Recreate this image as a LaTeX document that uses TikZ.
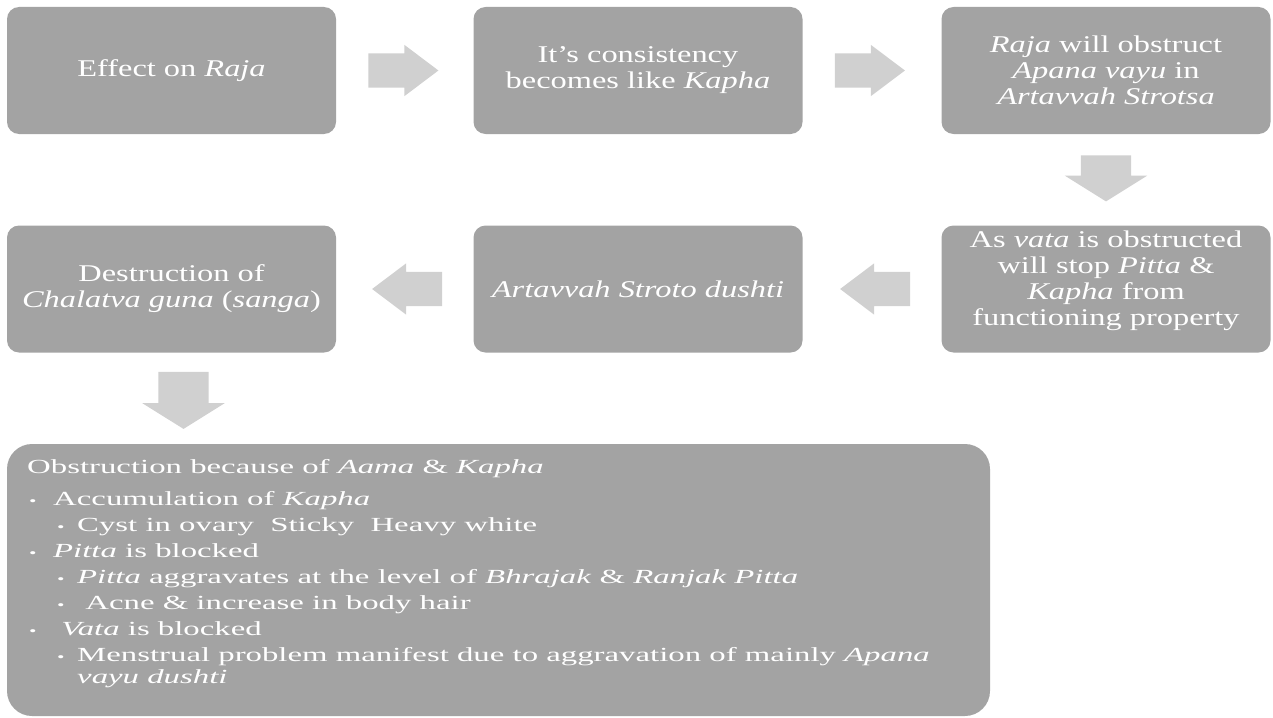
\documentclass[tikz,border=0pt]{standalone}
\usepackage{fontspec}
\setmainfont{Liberation Serif}
\newfontfamily\boxfont[FakeStretch=1.35]{Liberation Serif}
\newfontfamily\listfont[FakeStretch=1.64]{Liberation Serif}
\usepackage{xcolor}
\usepackage{tikz}
\usetikzlibrary{shapes.arrows}
\definecolor{boxgrey}{HTML}{A3A3A3}
\definecolor{arrowgrey}{HTML}{D0D0D0}
\newcommand{\bulone}{\makebox[26pt][l]{\hspace{2pt}{\fontsize{13}{13}\selectfont\textbullet}}}
\newcommand{\bultwo}{\hspace*{30pt}\makebox[20pt][l]{{\fontsize{13}{13}\selectfont\textbullet}}}

\begin{document}
\begin{tikzpicture}[x=1pt,y=-1pt,
  box/.style={rectangle,rounded corners=12pt,fill=boxgrey,text=white,align=center,
    minimum width=329pt,minimum height=127pt,inner sep=4pt,
    font=\boxfont\fontsize{24}{26}\selectfont},
  harrow/.style={single arrow,fill=arrowgrey,draw=none,inner xsep=0pt,inner ysep=17pt,
    single arrow head extend=8.5pt,single arrow tip angle=74,minimum height=70pt,anchor=tail},
  darrow/.style={single arrow,fill=arrowgrey,draw=none,inner xsep=0pt,inner ysep=25pt,
    single arrow head extend=16pt,single arrow tip angle=116,rotate=-90,anchor=tail}]
\useasboundingbox (0,0) rectangle (1273,717);
% first row
\node[box] (effect) at (171.5,70.5) {Effect on \textit{Raja}};
\node[box] (consist) at (638,70.5) {It’s consistency\\becomes like \textit{Kapha}};
\node[box] (obstr) at (1106,70.5) {\textit{Raja} will obstruct\\\textit{Apana vayu} in\\\textit{Artavvah Strotsa}};
% second row
\node[box] (vatabox) at (1106,289) {As \textit{vata} is obstructed\\will stop \textit{Pitta} \&\\\textit{Kapha} from\\functioning property\\[-4pt]\mbox{}};
\node[box] (dushti) at (638,289) {\textit{Artavvah Stroto dushti}};
\node[box] (destr) at (171.5,289) {Destruction of\\\textit{Chalatva guna} (\textit{sanga})};
% bottom box
\node[rectangle,rounded corners=25pt,fill=boxgrey,minimum width=983pt,minimum height=272pt] (list) at (498.5,580) {};
\node[anchor=north west,inner sep=0pt,text=white,align=left,
  font=\listfont\fontsize{20}{26}\selectfont] (listtext) at (27,459) {%
Obstruction because of \textit{Aama} \& \textit{Kapha}\\[6pt]
\bulone Accumulation of \textit{Kapha}\\
\bultwo Cyst in ovary\ \ Sticky\ \ Heavy white\\
\bulone\textit{Pitta} is blocked\\
\bultwo\textit{Pitta} aggravates at the level of \textit{Bhrajak} \& \textit{Ranjak Pitta}\\
\bultwo\ Acne \& increase in body hair\\
\bulone\ \textit{Vata} is blocked\\
\bultwo Menstrual problem manifest due to aggravation of mainly \textit{Apana}\\[-4pt]
\hspace*{50pt}\textit{vayu dushti}};
% arrows
\node[harrow] (a1) at ([xshift=32pt]effect.east) {};
\node[harrow] (a2) at ([xshift=32pt]consist.east) {};
\node[darrow,minimum height=46pt] (a3) at ([yshift=-21pt]obstr.south) {};
\node[harrow,shape border rotate=180] (a4) at ([xshift=-31pt]vatabox.west) {};
\node[harrow,shape border rotate=180] (a5) at ([xshift=-31pt]dushti.west) {};
\node[darrow,minimum height=57pt] (a6) at ([xshift=12pt,yshift=-19pt]destr.south) {};
\end{tikzpicture}
\end{document}
